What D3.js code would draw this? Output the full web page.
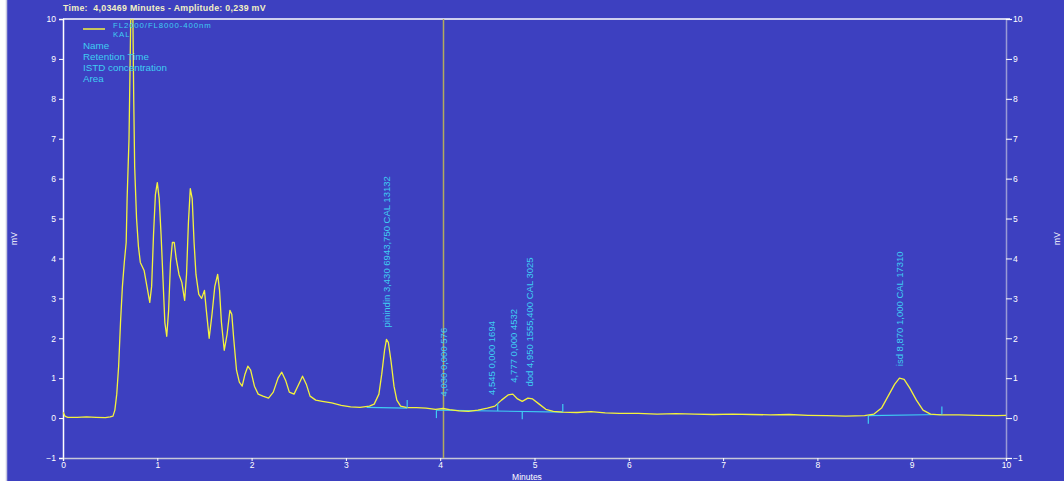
<!DOCTYPE html>
<html>
<head>
<meta charset="utf-8">
<script src="https://cdn.jsdelivr.net/npm/d3@7"></script>
<style>
  html, body { margin: 0; padding: 0; background: #ffffff; }
  svg { display: block; }
  text { font-family: "Liberation Sans", Arial, sans-serif; }
</style>
</head>
<body>
<script>
// Chromatogram trace: retention time (min) and detector signal (mV)
const times = [0.00,0.02,0.05,0.15,0.25,0.35,0.45,0.50,0.53,0.55,0.57,0.59,0.61,0.63,0.65,0.67,0.68,0.70,0.71,0.72,0.74,0.75,0.76,0.78,0.80,0.82,0.86,0.89,0.92,0.94,0.96,0.98,1.00,1.02,1.04,1.06,1.08,1.10,1.12,1.14,1.16,1.18,1.20,1.23,1.26,1.29,1.31,1.33,1.35,1.37,1.39,1.41,1.44,1.47,1.50,1.52,1.55,1.58,1.61,1.64,1.66,1.68,1.71,1.74,1.77,1.79,1.81,1.84,1.87,1.90,1.93,1.96,1.99,2.03,2.07,2.12,2.18,2.23,2.28,2.32,2.36,2.40,2.45,2.50,2.54,2.58,2.62,2.68,2.75,2.85,2.95,3.05,3.15,3.25,3.30,3.35,3.38,3.41,3.43,3.45,3.48,3.51,3.54,3.58,3.65,3.75,3.85,3.95,4.03,4.10,4.20,4.30,4.40,4.50,4.58,4.65,4.72,4.77,4.82,4.87,4.93,4.98,5.05,5.12,5.20,5.30,5.45,5.60,5.75,5.90,6.10,6.30,6.50,6.70,6.90,7.10,7.30,7.50,7.70,7.90,8.10,8.30,8.50,8.60,8.68,8.75,8.82,8.87,8.92,8.98,9.05,9.12,9.20,9.30,9.50,9.70,9.90,10.00];
const mv = [0.15,0.05,0.02,0.02,0.03,0.02,0.01,0.03,0.05,0.20,0.60,1.30,2.40,3.30,3.90,4.40,5.50,7.00,8.60,10.30,10.30,8.00,6.30,5.00,4.30,3.90,3.70,3.30,2.90,3.30,4.60,5.60,5.90,5.50,4.60,3.50,2.40,2.05,2.70,3.90,4.40,4.40,4.00,3.60,3.40,2.95,3.60,4.90,5.75,5.50,4.40,3.60,3.10,3.00,3.20,2.70,2.00,2.60,3.30,3.60,3.20,2.40,1.70,2.10,2.70,2.60,2.00,1.20,0.90,0.80,1.10,1.30,1.20,0.80,0.60,0.55,0.50,0.65,1.00,1.15,0.95,0.65,0.60,0.85,1.05,0.85,0.55,0.45,0.42,0.38,0.32,0.28,0.27,0.30,0.35,0.60,1.10,1.70,1.97,1.90,1.40,0.80,0.45,0.30,0.26,0.26,0.25,0.22,0.24,0.21,0.18,0.17,0.20,0.25,0.30,0.45,0.58,0.60,0.48,0.42,0.50,0.48,0.35,0.22,0.17,0.15,0.14,0.16,0.13,0.12,0.12,0.10,0.11,0.10,0.09,0.10,0.09,0.08,0.09,0.07,0.06,0.05,0.06,0.10,0.25,0.55,0.85,1.00,0.97,0.75,0.45,0.20,0.10,0.08,0.08,0.07,0.06,0.07];

// Integration baselines: start/end time and signal
const baseStart = [3.22, 3.96, 8.54];
const baseEnd = [3.65, 5.30, 9.32];
const baseStartMv = [0.27, 0.20, 0.06];
const baseEndMv = [0.25, 0.15, 0.09];

// Peak start/end markers
const markTimes = [3.65, 3.96, 4.61, 4.87, 5.30, 8.54, 9.32];
const markMv = [0.25, 0.20, 0.18, 0.17, 0.15, 0.06, 0.09];
const markDir = [1, -1, 1, -1, 1, -1, 1];

// Peak annotations: name, retention time, ISTD concentration, area
const peakTimes = [3.43, 4.03, 4.545, 4.777, 4.95, 8.87];
const peakLabels = [
  "pinindin 3,430 6943,750 CAL 13132",
  "4,030 0,000 576",
  "4,545 0,000 1694",
  "4,777 0,000 4532",
  "dod 4,950 1555,400 CAL 3025",
  "isd 8,870 1,000 CAL 17310"
];

const yTicks = [-1,0,1,2,3,4,5,6,7,8,9,10];
const xTicks = [0,1,2,3,4,5,6,7,8,9,10];
const cursorTime = 4.035;
const headerText = "Time:  4,03469 Minutes - Amplitude: 0,239 mV";
const legendTrace = ["FL2000/FL8000-400nm", "KAL"];
const legendFields = ["Name", "Retention Time", "ISTD concentration", "Area"];

const W = 1064, H = 487;
const mL = 63, mR = 1006, mT = 19, mB = 458;
const BG = "#3d40c0", CYAN = "#3fcdf2", YEL = "#f4f23c";

const svg = d3.select("body").append("svg").attr("width", W).attr("height", H);

svg.append("rect").attr("x", 6).attr("y", 0).attr("width", W - 6).attr("height", 481).attr("fill", BG);
svg.append("line").attr("x1", 6.5).attr("x2", 6.5).attr("y1", 0).attr("y2", 481)
  .attr("stroke", "#c8c8e0").attr("stroke-width", 1.5);

const x = d3.scaleLinear().domain([0, 10]).range([mL, mR]);
const y = d3.scaleLinear().domain([-1, 10]).range([mB, mT]);

// Header
svg.append("text").attr("x", mL).attr("y", 11).attr("fill", "#f2f0c4")
  .attr("font-size", 8.8).attr("font-weight", "bold").attr("letter-spacing", 0.3)
  .attr("xml:space", "preserve").style("white-space", "pre").text(headerText);

// Axes
const axisStyle = g => {
  g.selectAll("text").attr("fill", "#ffffff").attr("font-size", 8.5)
    .attr("font-family", "Liberation Sans, Arial, sans-serif");
};
const gl = svg.append("g").attr("transform", `translate(${mL},0)`)
  .call(d3.axisLeft(y).tickValues(yTicks).tickFormat(d3.format("d")).tickSize(4).tickPadding(3));
gl.select(".domain").attr("stroke", "#ffffff").attr("stroke-width", 1.5);
gl.selectAll(".tick line").attr("stroke", "#ffffff");
axisStyle(gl);

const gr = svg.append("g").attr("transform", `translate(${mR},0)`)
  .call(d3.axisRight(y).tickValues(yTicks).tickFormat(d3.format("d")).tickSize(6).tickPadding(1));
gr.select(".domain").attr("stroke", "#9a9ad6").attr("stroke-width", 1.5);
gr.selectAll(".tick line").attr("stroke", "#ffffff");
axisStyle(gr);

const gb = svg.append("g").attr("transform", `translate(0,${mB})`)
  .call(d3.axisBottom(x).tickValues(xTicks).tickFormat(d3.format("d")).tickSize(3).tickPadding(1));
gb.select(".domain").attr("stroke", "#c8c8d8").attr("stroke-width", 1.5);
gb.selectAll(".tick line").attr("stroke", "#ffffff");
axisStyle(gb);

svg.append("line").attr("x1", mL).attr("x2", mR + 4).attr("y1", mT).attr("y2", mT)
  .attr("stroke", "#ffffff").attr("stroke-width", 1.5);

// Axis titles
svg.append("text").attr("transform", `translate(17,${(mT + mB) / 2}) rotate(-90)`)
  .attr("text-anchor", "middle").attr("fill", "#ffffff").attr("font-size", 8.5).text("mV");
svg.append("text").attr("transform", `translate(1060,${(mT + mB) / 2}) rotate(-90)`)
  .attr("text-anchor", "middle").attr("fill", "#ffffff").attr("font-size", 8.5).text("mV");
svg.append("text").attr("x", 527).attr("y", 480).attr("text-anchor", "middle")
  .attr("fill", "#ffffff").attr("font-size", 8.5).text("Minutes");

// Cursor
svg.append("line").attr("x1", x(cursorTime)).attr("x2", x(cursorTime)).attr("y1", mT).attr("y2", mB)
  .attr("stroke", "#b2aa5e").attr("stroke-width", 1.5);

// Clip for the trace
svg.append("clipPath").attr("id", "plot").append("rect")
  .attr("x", mL).attr("y", mT).attr("width", mR - mL).attr("height", mB - mT);

// Baselines
svg.append("g").selectAll("line").data(baseStart).join("line")
  .attr("x1", (d, i) => x(d)).attr("x2", (d, i) => x(baseEnd[i]))
  .attr("y1", (d, i) => y(baseStartMv[i])).attr("y2", (d, i) => y(baseEndMv[i]))
  .attr("stroke", CYAN).attr("stroke-width", 1.2);

// Trace
const pts = times.map((t, i) => [t, mv[i]]);
svg.append("path").datum(pts).attr("clip-path", "url(#plot)")
  .attr("d", d3.line().x(d => x(d[0])).y(d => y(d[1])))
  .attr("fill", "none").attr("stroke", YEL).attr("stroke-width", 1.3).attr("stroke-linejoin", "round");

// Peak markers
svg.append("g").selectAll("line").data(markTimes).join("line")
  .attr("x1", d => x(d)).attr("x2", d => x(d))
  .attr("y1", (d, i) => y(markMv[i])).attr("y2", (d, i) => y(markMv[i]) - 8 * markDir[i])
  .attr("stroke", CYAN).attr("stroke-width", 1.2);

// Peak labels
const interp = t => {
  const i = d3.bisectLeft(times, t);
  if (i <= 0) return mv[0];
  const t0 = times[i - 1], t1 = times[i];
  return mv[i - 1] + (mv[i] - mv[i - 1]) * (t - t0) / (t1 - t0);
};
svg.append("g").selectAll("text").data(peakTimes).join("text")
  .attr("transform", (d, i) => `translate(${x(d) + 3.5},${y(interp(d)) - 12}) rotate(-90)`)
  .attr("fill", CYAN).attr("font-size", 9.5)
  .text((d, i) => peakLabels[i]);

// Legend
svg.append("line").attr("x1", 83).attr("x2", 105).attr("y1", 29).attr("y2", 29)
  .attr("stroke", YEL).attr("stroke-width", 1.5);
svg.append("g").selectAll("text").data(legendTrace).join("text")
  .attr("x", 113).attr("y", (d, i) => 28 + i * 9)
  .attr("fill", CYAN).attr("font-size", 7.8).attr("letter-spacing", 0.9).text(d => d);
svg.append("g").selectAll("text").data(legendFields).join("text")
  .attr("x", 83).attr("y", (d, i) => 49 + i * 11)
  .attr("fill", CYAN).attr("font-size", 9.8).text(d => d);
</script>
</body>
</html>
